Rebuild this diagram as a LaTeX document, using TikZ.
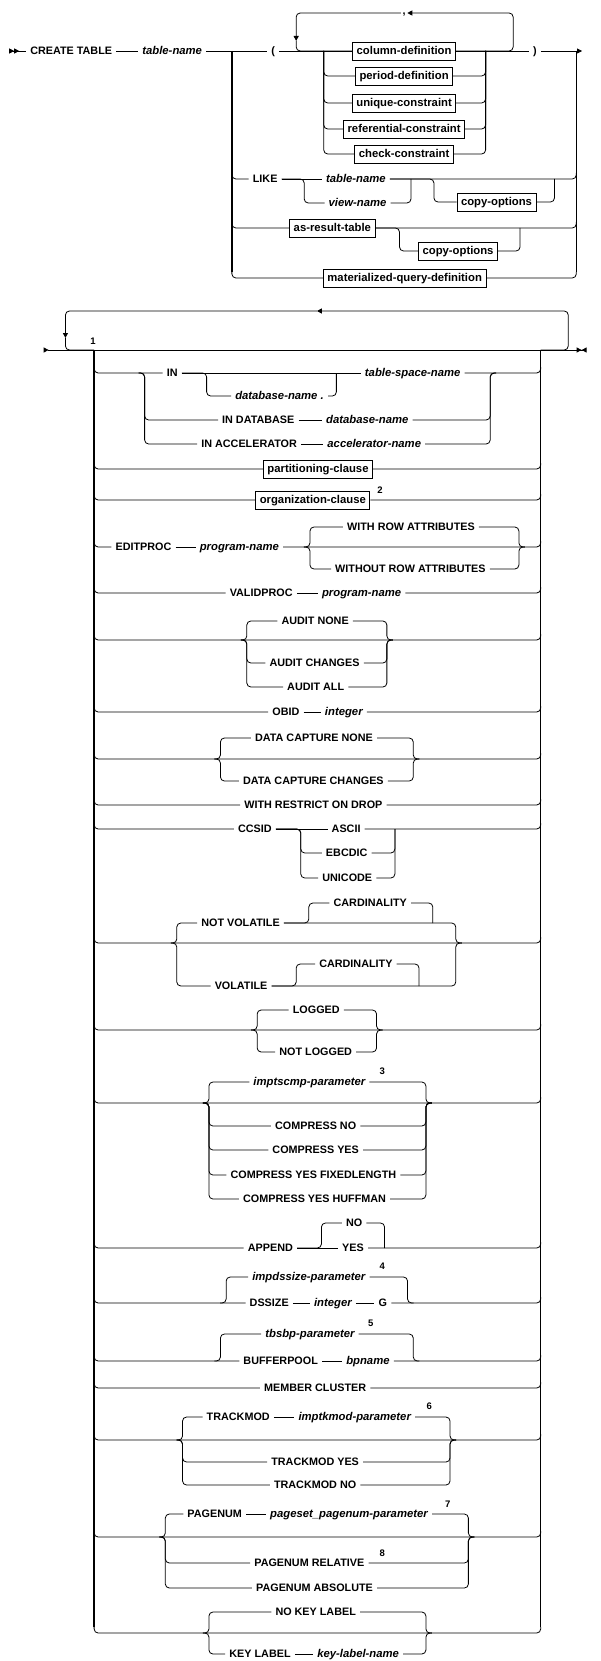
\documentclass[tikz,border=0pt]{standalone}
\usepackage{fontspec}
\setmainfont{Liberation Sans}
\usepackage{tikz}
\usetikzlibrary{arrows.meta}
\newcommand{\kwfont}{\fontsize{10.8}{12}\selectfont\bfseries}
\newcommand{\varfont}{\fontsize{11.3}{12}\selectfont\bfseries\itshape}
\newcommand{\boxfont}{\fontsize{11.3}{12}\selectfont\bfseries}
\newcommand{\fnfont}{\fontsize{9.5}{10}\selectfont\bfseries}

\begin{document}
\begin{tikzpicture}[
  x=1.148pt, y=-1pt,
  rail/.style={line width=0.8pt, rounded corners=4pt},
  trunk/.style={line width=1.5pt},
  kw/.style={font=\kwfont, inner xsep=4pt, inner ysep=1pt,
    text height=7.7pt, text depth=0pt},
  var/.style={kw, font=\varfont},
  refbox/.style={kw, draw, line width=0.8pt, fill=white,
    font=\boxfont, minimum height=18pt},
  fn/.style={font=\fnfont, inner sep=0pt},
  tri/.style={-{Triangle[length=5pt,width=5pt]}}
]
\useasboundingbox (0,0) rectangle (522.65,1661);

% CREATE TABLE line
\coordinate (start) at (8,51);
\node[kw] (create) at (62,51) {CREATE TABLE};
\node[var] (tname) at (150,51) {table-name};
\node[kw] (lpar) at (238,51) {(};
\node[refbox] (coldef) at (352,51) {column-definition};
\node[refbox] (perdef) at (352,76) {period-definition};
\node[refbox] (uniq) at (352,103) {unique-constraint};
\node[refbox] (refcon) at (352,129) {referential-constraint};
\node[refbox] (chkcon) at (352,154) {check-constraint};
\node[kw] (rpar) at (466,51) {)};
\node[kw, text height=3pt, inner xsep=1.5pt] (comma) at (352,13) {,};
\coordinate (jl) at (202,51);
\coordinate (jr) at (502,51);
\coordinate (stop) at (507,51);
\coordinate (ell) at (282,51);
\coordinate (elr) at (423,51);
\coordinate (loopr) at (447,13);
\coordinate (loopd) at (258,41);

\draw[rail, {Triangle[reversed,length=5pt,width=5pt]Triangle[reversed,length=5pt,width=5pt]}-] (start) -- (create);
\draw[rail] (create) -- (tname);
\draw[rail] (tname) -- (lpar);
\draw[rail] (lpar) -- (coldef);
\draw[rail] (coldef) -- (rpar);
\draw[rail] (rpar) -- (jr);
\draw[rail, tri] (jr) -- (stop);
\draw[rail, tri] (coldef.east) -| (loopr) -- (comma.east);
\draw[rail, tri] (comma.west) -| (loopd);
\draw[rail] (loopd) |- (coldef.west);
\draw[rail] (ell) |- (perdef.west);
\draw[rail] (perdef.east) -| (elr);
\draw[rail] (ell) |- (uniq.west);
\draw[rail] (uniq.east) -| (elr);
\draw[rail] (ell) |- (refcon.west);
\draw[rail] (refcon.east) -| (elr);
\draw[rail] (ell) |- (chkcon.west);
\draw[rail] (chkcon.east) -| (elr);

% LIKE
\node[kw] (like) at (231,179) {LIKE};
\node[var] (liketab) at (310,179) {table-name};
\node[var] (likeview) at (311.5,203) {view-name};
\node[refbox] (copyopt) at (432.5,202) {copy-options};
\coordinate (lkl) at (265,179);
\coordinate (lkr) at (358,179);
\coordinate (cpl) at (378,179);
\coordinate (cpr) at (483,179);
\draw[rail] ([yshift=6pt]jl |- like) |- (like.west);
\draw[rail] (like) -- (liketab);
\draw[rail] (like.east) -| (lkl |- likeview) -- (likeview.west);
\draw[rail] (likeview.east) -| (lkr);
\draw[rail] (liketab.east) -| ([yshift=6pt]jr |- like);
\draw[rail] (liketab.east) -| (cpl |- copyopt) -- (copyopt.west);
\draw[rail] (copyopt.east) -| (cpr);

% as-result-table
\node[refbox] (asres) at (289.5,228) {as-result-table};
\node[refbox] (copyopt2) at (399,251) {copy-options};
\coordinate (asl) at (348,228);
\coordinate (asr) at (453,228);
\draw[rail] ([yshift=6pt]jl |- asres) |- (asres.west);
\draw[rail] (asres.east) -| ([yshift=6pt]jr |- asres);
\draw[rail] (asres.east) -| (asl |- copyopt2) -- (copyopt2.west);
\draw[rail] (copyopt2.east) -| (asr);

% materialized-query-definition
\node[refbox] (mqd) at (352.5,278) {materialized-query-definition};
\draw[rail] ([yshift=6pt]jl |- mqd) |- (mqd.west);
\draw[rail] (mqd.east) -| ([yshift=6pt]jr |- mqd);
\draw[trunk] (jl) -- ([yshift=6pt]jl |- mqd);
\draw[trunk] (jr) -- ([yshift=6pt]jr |- mqd);

% Options, main line and repeat
\coordinate (start2) at (38,350);
\coordinate (stop2) at (511,350);
\coordinate (L) at (82,350);
\coordinate (R) at (471,350);
\coordinate (rtop) at (495,311);
\coordinate (rarrow) at (276,311);
\coordinate (rdown) at (57,338);
\node[fn] (fn1) at (81,341) {1};
\draw[rail, {Triangle[reversed,length=5pt,width=5pt]}-{Triangle[length=5pt,width=5pt]Triangle[reversed,length=5pt,width=5pt]}] (start2) -- (stop2);
\draw[rail, tri] (R) -| (rtop) -- (rarrow);
\draw[rail, tri] (rarrow) -| (rdown);
\draw[rail] (rdown) |- (L);

% IN
\coordinate (inl) at (126,373);
\coordinate (inr) at (427,373);
\coordinate (dbl) at (180,373);
\coordinate (dbr) at (293,373);
\node[kw] (inkw) at (150,373) {IN};
\node[var] (dbname) at (243.5,396) {database-name .};
\node[var] (tsname) at (359.5,373) {table-space-name};
\node[kw] (indb) at (225,420) {IN DATABASE};
\node[var] (dbname2) at (320,420) {database-name};
\node[kw] (inacc) at (217,444) {IN ACCELERATOR};
\node[var] (accname) at (326,444) {accelerator-name};
\draw[rail] ([yshift=6pt]L |- inkw) |- (inkw.west);
\draw[rail] (inkw) -- (tsname);
\draw[rail] (inkw.east) -| (dbl |- dbname) -- (dbname.west);
\draw[rail] (dbname.east) -| (dbr);
\draw[rail] (tsname.east) -| ([yshift=6pt]R |- tsname);
\draw[rail] ([xshift=-6pt]inl) -- (inl) |- (indb.west);
\draw[rail] (indb) -- (dbname2);
\draw[rail] (dbname2.east) -| (inr) -- ([xshift=6pt]inr);
\draw[rail] ([xshift=-6pt]inl) -- (inl) |- (inacc.west);
\draw[rail] (inacc) -- (accname);
\draw[rail] (accname.east) -| (inr) -- ([xshift=6pt]inr);

% partitioning / organization
\node[refbox] (partc) at (277,469) {partitioning-clause};
\draw[rail] ([yshift=6pt]L |- partc) |- (partc.west);
\draw[rail] (partc.east) -| ([yshift=6pt]R |- partc);
\node[refbox] (orgc) at (272.5,500) {organization-clause};
\node[fn] (fn2) at (331,490) {2};
\draw[rail] ([yshift=6pt]L |- orgc) |- (orgc.west);
\draw[rail] (orgc.east) -| ([yshift=6pt]R |- orgc);

% EDITPROC
\coordinate (edl) at (270,547);
\coordinate (edr) at (452,547);
\node[kw] (editproc) at (125,547) {EDITPROC};
\node[var] (progname) at (208.5,547) {program-name};
\node[kw] (withrow) at (358,527) {WITH ROW ATTRIBUTES};
\node[kw] (withoutrow) at (357.5,569) {WITHOUT ROW ATTRIBUTES};
\draw[rail] ([yshift=6pt]L |- editproc) |- (editproc.west);
\draw[rail] (editproc) -- (progname);
\draw[rail] (progname.east) -| ([yshift=6pt]R |- progname);
\draw[rail] ([xshift=-6pt]edl) -- (edl) |- (withrow.west);
\draw[rail] ([xshift=-6pt]edl) -- (edl) |- (withoutrow.west);
\draw[rail] (withrow.east) -| (edr) -- ([xshift=6pt]edr);
\draw[rail] (withoutrow.east) -| (edr) -- ([xshift=6pt]edr);

% VALIDPROC
\node[kw] (validproc) at (227.5,593) {VALIDPROC};
\node[var] (progname2) at (315,593) {program-name};
\draw[rail] ([yshift=6pt]L |- validproc) |- (validproc.west);
\draw[rail] (validproc) -- (progname2);
\draw[rail] (progname2.east) -| ([yshift=6pt]R |- progname2);

% AUDIT
\coordinate (aul) at (215,640);
\coordinate (aur) at (337,640);
\node[kw] (auditnone) at (274.5,621) {AUDIT NONE};
\node[kw] (auditchg) at (274,663) {AUDIT CHANGES};
\node[kw] (auditall) at (275,687) {AUDIT ALL};
\draw[rail] ([yshift=6pt]L |- aul) -- (L |- aul) -- (R |- aul) -- ([yshift=6pt]R |- aul);
\draw[rail] ([xshift=-6pt]aul) -- (aul) |- (auditnone.west);
\draw[rail] ([xshift=-6pt]aul) -- (aul) |- (auditchg.west);
\draw[rail] ([xshift=-6pt]aul) -- (aul) |- (auditall.west);
\draw[rail] (auditnone.east) -| (aur) -- ([xshift=6pt]aur);
\draw[rail] (auditchg.east) -| (aur) -- ([xshift=6pt]aur);
\draw[rail] (auditall.east) -| (aur) -- ([xshift=6pt]aur);

% OBID
\node[kw] (obid) at (249,712) {OBID};
\node[var] (obidint) at (299.5,712) {integer};
\draw[rail] ([yshift=6pt]L |- obid) |- (obid.west);
\draw[rail] (obid) -- (obidint);
\draw[rail] (obidint.east) -| ([yshift=6pt]R |- obidint);

% DATA CAPTURE
\coordinate (dcl) at (192,759);
\coordinate (dcr) at (360,759);
\node[kw] (dcnone) at (273.5,738) {DATA CAPTURE NONE};
\node[kw] (dcchg) at (273,781) {DATA CAPTURE CHANGES};
\draw[rail] ([yshift=6pt]L |- dcl) -- (L |- dcl) -- (R |- dcl) -- ([yshift=6pt]R |- dcl);
\draw[rail] ([xshift=-6pt]dcl) -- (dcl) |- (dcnone.west);
\draw[rail] ([xshift=-6pt]dcl) -- (dcl) |- (dcchg.west);
\draw[rail] (dcnone.east) -| (dcr) -- ([xshift=6pt]dcr);
\draw[rail] (dcchg.east) -| (dcr) -- ([xshift=6pt]dcr);

% WITH RESTRICT ON DROP
\node[kw] (restrict) at (273,805) {WITH RESTRICT ON DROP};
\draw[rail] ([yshift=6pt]L |- restrict) |- (restrict.west);
\draw[rail] (restrict.east) -| ([yshift=6pt]R |- restrict);

% CCSID
\coordinate (ccl) at (262,829);
\coordinate (ccr) at (344,829);
\node[kw] (ccsid) at (222,829) {CCSID};
\node[kw] (ascii) at (301.5,829) {ASCII};
\node[kw] (ebcdic) at (302,853) {EBCDIC};
\node[kw] (unicode) at (302.5,878) {UNICODE};
\draw[rail] ([yshift=6pt]L |- ccsid) |- (ccsid.west);
\draw[rail] (ccsid) -- (ascii);
\draw[rail] (ccsid.east) -| (ccl |- ebcdic) -- (ebcdic.west);
\draw[rail] (ccsid.east) -| (ccl |- unicode) -- (unicode.west);
\draw[rail] (ascii.east) -| ([yshift=6pt]R |- ascii);
\draw[rail] (ebcdic.east) -| (ccr);
\draw[rail] (unicode.east) -| (ccr);

% VOLATILE
\coordinate (vll) at (154,943);
\coordinate (vlr) at (397,943);
\coordinate (c1l) at (269,923);
\coordinate (c1r) at (377,923);
\coordinate (c2l) at (258,986);
\coordinate (c2r) at (365,986);
\node[kw] (notvol) at (209.5,923) {NOT VOLATILE};
\node[kw] (card1) at (322.5,903) {CARDINALITY};
\node[kw] (volat) at (210,986) {VOLATILE};
\node[kw] (card2) at (310,964) {CARDINALITY};
\draw[rail] ([yshift=6pt]L |- vll) -- (L |- vll) -- (R |- vll) -- ([yshift=6pt]R |- vll);
\draw[rail] ([xshift=-6pt]vll) -- (vll) |- (notvol.west);
\draw[rail] ([xshift=-6pt]vll) -- (vll) |- (volat.west);
\draw[rail] (notvol.east) -| (vlr) -- ([xshift=6pt]vlr);
\draw[rail] (notvol.east) -| (c1l |- card1) -- (card1.west);
\draw[rail] (card1.east) -| (c1r);
\draw[rail] (volat.east) -| (vlr) -- ([xshift=6pt]vlr);
\draw[rail] (volat.east) -| (c2l |- card2) -- (card2.west);
\draw[rail] (card2.east) -| (c2r);

% LOGGED
\coordinate (lgl) at (224,1030);
\coordinate (lgr) at (328,1030);
\node[kw] (logged) at (275.5,1010) {LOGGED};
\node[kw] (notlogged) at (275,1052) {NOT LOGGED};
\draw[rail] ([yshift=6pt]L |- lgl) -- (L |- lgl) -- (R |- lgl) -- ([yshift=6pt]R |- lgl);
\draw[rail] ([xshift=-6pt]lgl) -- (lgl) |- (logged.west);
\draw[rail] ([xshift=-6pt]lgl) -- (lgl) |- (notlogged.west);
\draw[rail] (logged.east) -| (lgr) -- ([xshift=6pt]lgr);
\draw[rail] (notlogged.east) -| (lgr) -- ([xshift=6pt]lgr);

% COMPRESS
\coordinate (icl) at (182,1103);
\coordinate (icr) at (371,1103);
\node[var] (imptscmp) at (269.5,1082) {imptscmp-parameter};
\node[fn] (fn3) at (333,1071) {3};
\node[kw] (cmpno) at (275,1126) {COMPRESS NO};
\node[kw] (cmpyes) at (275,1150) {COMPRESS YES};
\node[kw] (cmpfix) at (273,1175) {COMPRESS YES FIXEDLENGTH};
\node[kw] (cmphuf) at (274,1199) {COMPRESS YES HUFFMAN};
\draw[rail] ([yshift=6pt]L |- icl) -- (L |- icl) -- (R |- icl) -- ([yshift=6pt]R |- icl);
\draw[rail] ([xshift=-6pt]icl) -- (icl) |- (imptscmp.west);
\draw[rail] ([xshift=-6pt]icl) -- (icl) |- (cmpno.west);
\draw[rail] ([xshift=-6pt]icl) -- (icl) |- (cmpyes.west);
\draw[rail] ([xshift=-6pt]icl) -- (icl) |- (cmpfix.west);
\draw[rail] ([xshift=-6pt]icl) -- (icl) |- (cmphuf.west);
\draw[rail] (imptscmp.east) -| (icr) -- ([xshift=6pt]icr);
\draw[rail] (cmpno.east) -| (icr) -- ([xshift=6pt]icr);
\draw[rail] (cmpyes.east) -| (icr) -- ([xshift=6pt]icr);
\draw[rail] (cmpfix.east) -| (icr) -- ([xshift=6pt]icr);
\draw[rail] (cmphuf.east) -| (icr) -- ([xshift=6pt]icr);

% APPEND
\coordinate (apl) at (280,1248);
\coordinate (apr) at (335,1248);
\node[kw] (append) at (235.5,1248) {APPEND};
\node[kw] (apno) at (308.5,1223) {NO};
\node[kw] (apyes) at (307.5,1248) {YES};
\draw[rail] ([yshift=6pt]L |- append) |- (append.west);
\draw[rail] (append) -- (apyes);
\draw[rail] (append.east) -| (apl |- apno) -- (apno.west);
\draw[rail] (apno.east) -| (apr);
\draw[rail] (apyes.east) -| ([yshift=6pt]R |- apyes);

% DSSIZE
\coordinate (dsl) at (197,1303);
\coordinate (dsr) at (355,1303);
\node[var] (impds) at (269,1277) {impdssize-parameter};
\node[fn] (fn4) at (333,1266) {4};
\node[kw] (dssize) at (234.5,1303) {DSSIZE};
\node[var] (dsint) at (290,1303) {integer};
\node[kw] (dsg) at (333.5,1303) {G};
\draw[rail] ([yshift=6pt]L |- dssize) |- (dssize.west);
\draw[rail] (dssize) -- (dsint);
\draw[rail] (dsint) -- (dsg);
\draw[rail] (dsg.east) -| ([yshift=6pt]R |- dsg);
\draw[rail] ([xshift=-6pt]dsl) -- (dsl) |- (impds.west);
\draw[rail] (impds.east) -| (dsr) -- ([xshift=6pt]dsr);

% BUFFERPOOL
\coordinate (tbl) at (192,1361);
\coordinate (tbr) at (360,1361);
\node[var] (tbsbp) at (270,1334) {tbsbp-parameter};
\node[fn] (fn5) at (323,1323) {5};
\node[kw] (bufpool) at (244.5,1361) {BUFFERPOOL};
\node[var] (bpname) at (320.5,1361) {bpname};
\draw[rail] ([yshift=6pt]L |- bufpool) |- (bufpool.west);
\draw[rail] (bufpool) -- (bpname);
\draw[rail] (bpname.east) -| ([yshift=6pt]R |- bpname);
\draw[rail] ([xshift=-6pt]tbl) -- (tbl) |- (tbsbp.west);
\draw[rail] (tbsbp.east) -| (tbr) -- ([xshift=6pt]tbr);

% MEMBER CLUSTER
\node[kw] (member) at (274.5,1388) {MEMBER CLUSTER};
\draw[rail] ([yshift=6pt]L |- member) |- (member.west);
\draw[rail] (member.east) -| ([yshift=6pt]R |- member);

% TRACKMOD
\coordinate (tml) at (159,1440);
\coordinate (tmr) at (392,1440);
\node[kw] (trackmod) at (207.5,1417) {TRACKMOD};
\node[var] (tmparam) at (309,1417) {imptkmod-parameter};
\node[fn] (fn6) at (374,1406) {6};
\node[kw] (tmyes) at (274.5,1462) {TRACKMOD YES};
\node[kw] (tmno) at (274.5,1485) {TRACKMOD NO};
\draw[rail] ([yshift=6pt]L |- tml) -- (L |- tml) -- (R |- tml) -- ([yshift=6pt]R |- tml);
\draw[rail] ([xshift=-6pt]tml) -- (tml) |- (trackmod.west);
\draw[rail] (trackmod) -- (tmparam);
\draw[rail] ([xshift=-6pt]tml) -- (tml) |- (tmyes.west);
\draw[rail] ([xshift=-6pt]tml) -- (tml) |- (tmno.west);
\draw[rail] (tmparam.east) -| (tmr) -- ([xshift=6pt]tmr);
\draw[rail] (tmyes.east) -| (tmr) -- ([xshift=6pt]tmr);
\draw[rail] (tmno.east) -| (tmr) -- ([xshift=6pt]tmr);

% PAGENUM
\coordinate (pgl) at (144,1537);
\coordinate (pgr) at (408,1537);
\node[kw] (pagenum) at (187,1514) {PAGENUM};
\node[var] (pgparam) at (304,1514) {pageset\_pagenum-parameter};
\node[fn] (fn7) at (390,1504) {7};
\node[kw] (pgrel) at (269.5,1563) {PAGENUM RELATIVE};
\node[fn] (fn8) at (333,1553) {8};
\node[kw] (pgabs) at (274,1588) {PAGENUM ABSOLUTE};
\draw[rail] ([yshift=6pt]L |- pgl) -- (L |- pgl) -- (R |- pgl) -- ([yshift=6pt]R |- pgl);
\draw[rail] ([xshift=-6pt]pgl) -- (pgl) |- (pagenum.west);
\draw[rail] (pagenum) -- (pgparam);
\draw[rail] ([xshift=-6pt]pgl) -- (pgl) |- (pgrel.west);
\draw[rail] ([xshift=-6pt]pgl) -- (pgl) |- (pgabs.west);
\draw[rail] (pgparam.east) -| (pgr) -- ([xshift=6pt]pgr);
\draw[rail] (pgrel.east) -| (pgr) -- ([xshift=6pt]pgr);
\draw[rail] (pgabs.east) -| (pgr) -- ([xshift=6pt]pgr);

% KEY LABEL
\coordinate (kll) at (182,1633);
\coordinate (klr) at (371,1633);
\node[kw] (nokey) at (275,1612) {NO KEY LABEL};
\node[kw] (keylab) at (226.5,1654) {KEY LABEL};
\node[var] (klname) at (312,1654) {key-label-name};
\draw[rail] ([yshift=6pt]L |- kll) -- (L |- kll) -- (R |- kll) -- ([yshift=6pt]R |- kll);
\draw[rail] ([xshift=-6pt]kll) -- (kll) |- (nokey.west);
\draw[rail] ([xshift=-6pt]kll) -- (kll) |- (keylab.west);
\draw[rail] (keylab) -- (klname);
\draw[rail] (nokey.east) -| (klr) -- ([xshift=6pt]klr);
\draw[rail] (klname.east) -| (klr) -- ([xshift=6pt]klr);

% trunks of the option list
\draw[trunk] (L) -- ([yshift=6pt]L |- kll);
\draw[trunk] (R) -- ([yshift=6pt]R |- kll);

\end{tikzpicture}
\end{document}
